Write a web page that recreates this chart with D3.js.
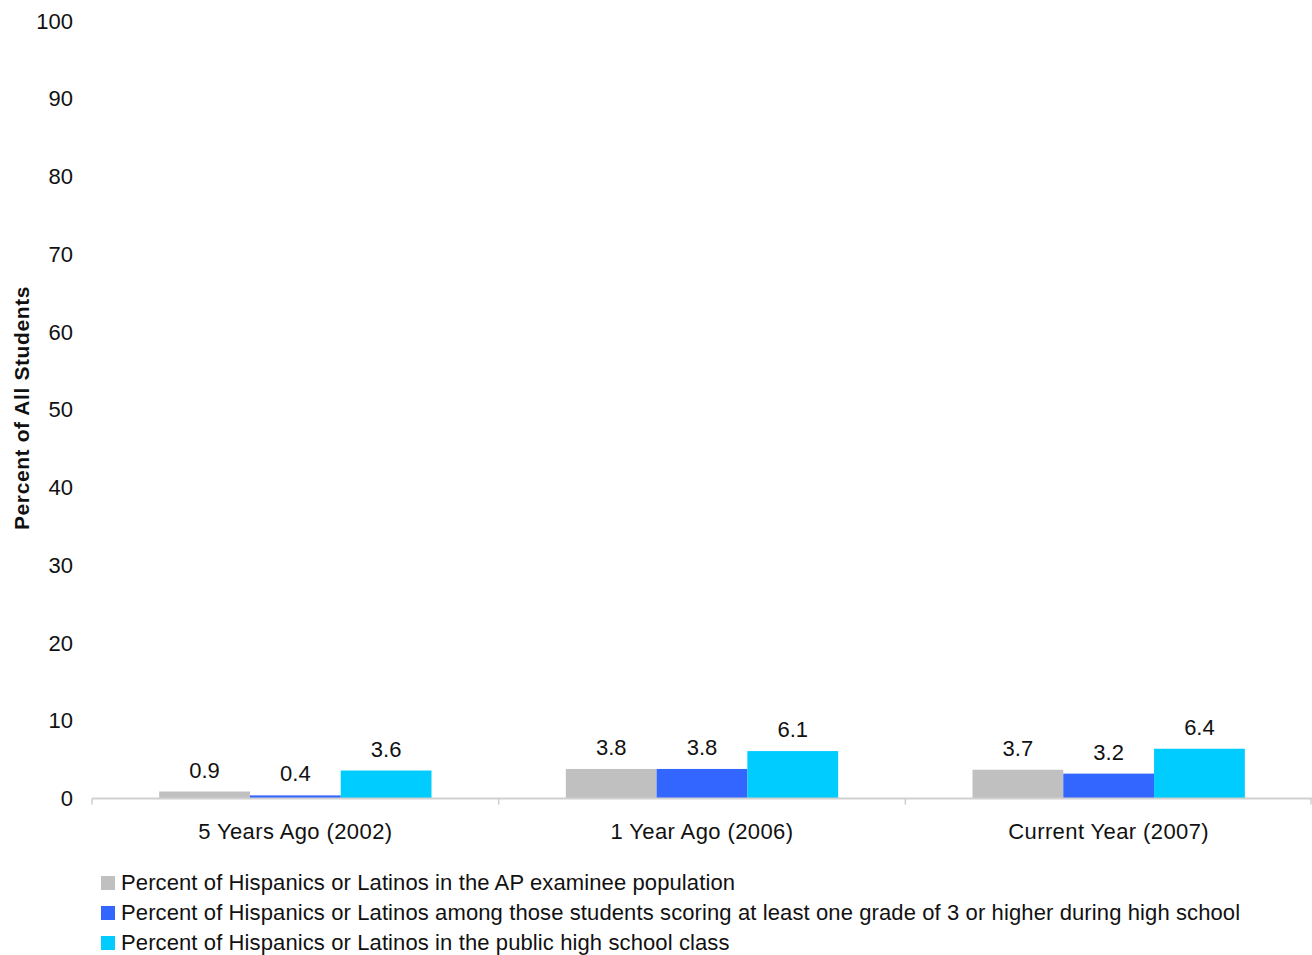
<!DOCTYPE html>
<html>
<head>
<meta charset="utf-8">
<script src="https://cdn.jsdelivr.net/npm/d3@7"></script>
<style>
html,body{margin:0;padding:0;background:#fff;}
svg{display:block;font-family:"Liberation Sans",Arial,sans-serif;}
</style>
</head>
<body>
<svg id="chart" width="1312" height="955"></svg>
<script>
const categories = ["5 Years Ago (2002)", "1 Year Ago (2006)", "Current Year (2007)"];
const seriesNames = [
  "Percent of Hispanics or Latinos in the AP examinee population",
  "Percent of Hispanics or Latinos among those students scoring at least one grade of 3 or higher during high school",
  "Percent of Hispanics or Latinos in the public high school class"
];
const examinees = [0.9, 3.8, 3.7];
const scoring3 = [0.4, 3.8, 3.2];
const publicClass = [3.6, 6.1, 6.4];
const yTicks = [0, 10, 20, 30, 40, 50, 60, 70, 80, 90, 100];
const colors = ["#C0C0C0", "#3366FF", "#00CCFF"];

(function(){
const series = [examinees, scoring3, publicClass];
const svg = d3.select("#chart");
const mLeft = 92, mRight = 1312, mTop = 21, mBottom = 798.5;
const fs = 22;

const y = d3.scaleLinear().domain([0, 100]).range([mBottom, mTop]);
const x = d3.scaleBand().domain(categories).range([mLeft, mRight]).paddingInner(0).paddingOuter(0);
const inner = d3.scaleBand().domain(d3.range(series.length)).range([0, x.bandwidth()]).paddingInner(0).paddingOuter(0.74);

// y tick labels
svg.append("g").selectAll("text").data(yTicks).join("text")
  .attr("x", 73).attr("y", d => y(d)).attr("dy", "0.35em")
  .attr("text-anchor", "end").attr("font-size", fs).attr("fill", "#111")
  .text(d => d);

// y title
svg.append("text")
  .attr("transform", `translate(29,408) rotate(-90)`)
  .attr("text-anchor", "middle").attr("font-size", 21).attr("font-weight", "bold").attr("fill", "#111")
  .attr("letter-spacing", 0.6)
  .text("Percent of All Students");

// bars
const groups = svg.append("g").selectAll("g").data(categories).join("g")
  .attr("transform", d => `translate(${x(d)},0)`);
groups.each(function(cat, ci) {
  const g = d3.select(this);
  series.forEach((s, si) => {
    g.append("rect")
      .attr("x", inner(si)).attr("width", inner.bandwidth())
      .attr("y", y(s[ci])).attr("height", y(0) - y(s[ci]))
      .attr("fill", colors[si]);
    g.append("text")
      .attr("x", inner(si) + inner.bandwidth() / 2)
      .attr("y", y(s[ci]) - 14)
      .attr("text-anchor", "middle").attr("font-size", fs).attr("fill", "#111")
      .text(s[ci].toFixed(1));
  });
});

// x axis
const xAxis = svg.append("g");
xAxis.append("line").attr("x1", mLeft).attr("x2", mRight).attr("y1", mBottom).attr("y2", mBottom)
  .attr("stroke", "#d0d0d0").attr("stroke-width", 2);
const bounds = categories.map(c => x(c)).concat([mRight - 1]);
xAxis.selectAll("line.tick").data(bounds).join("line").attr("class", "tick")
  .attr("x1", d => d).attr("x2", d => d).attr("y1", mBottom).attr("y2", mBottom + 6)
  .attr("stroke", "#d0d0d0").attr("stroke-width", 1.5);
xAxis.selectAll("text").data(categories).join("text")
  .attr("x", d => x(d) + x.bandwidth() / 2).attr("y", 831).attr("dy", "0.35em")
  .attr("text-anchor", "middle").attr("font-size", fs).attr("fill", "#111")
  .attr("letter-spacing", 0.4)
  .text(d => d);

// legend
const legend = svg.append("g").selectAll("g").data(seriesNames).join("g")
  .attr("transform", (d, i) => `translate(101,${883 + i * 30})`);
legend.append("rect").attr("x", 0).attr("y", -7).attr("width", 14).attr("height", 14)
  .attr("fill", (d, i) => colors[i]);
legend.append("text").attr("x", 20).attr("y", 0).attr("dy", "0.33em")
  .attr("font-size", fs).attr("fill", "#111").attr("letter-spacing", 0.11)
  .text(d => d);
})();
</script>
</body>
</html>
